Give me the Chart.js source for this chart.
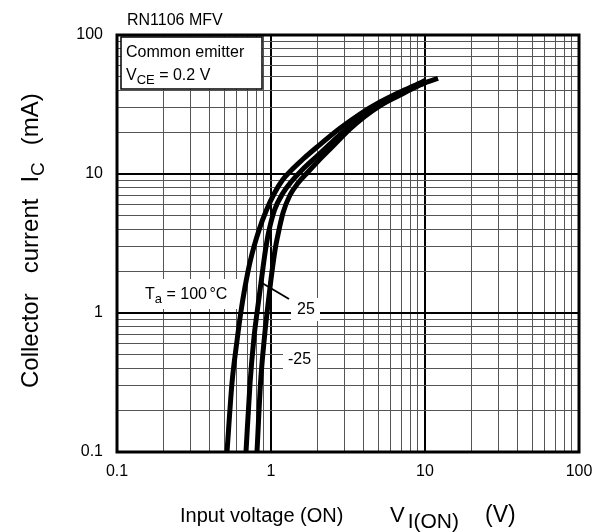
<!DOCTYPE html>
<html>
<head>
<meta charset="utf-8">
<script src="https://cdn.jsdelivr.net/npm/chart.js@4.4.1/dist/chart.umd.min.js"></script>
<style>
  html, body { margin: 0; padding: 0; background: #fff; }
</style>
</head>
<body>
<canvas id="grafico" width="605" height="532"></canvas>
<script>
// tick labels (decades only)
const voltLabels = [0.1, 1, 10, 100];
const corrLabels = [0.1, 1, 10, 100];

// Ta = 100 °C
const v100 = [0.518, 0.558, 0.599, 0.636, 0.678, 0.736, 0.836, 0.935, 1.054, 1.188, 1.359, 1.590, 1.990, 2.765, 3.785, 5.104, 6.880, 9.28, 10.15];
const i100 = [0.1, 0.313, 0.608, 1.0, 1.538, 2.406, 3.955, 5.51, 7.30, 9.05, 10.69, 12.61, 15.64, 21.07, 27.02, 32.96, 38.9, 45.15, 47.45];
// Ta = 25 °C
const v25 = [0.688, 0.731, 0.776, 0.811, 0.861, 0.921, 0.963, 1.054, 1.196, 1.349, 1.590, 1.960, 2.453, 3.069, 3.90, 5.104, 6.880, 9.28, 12.15];
const i25 = [0.1, 0.313, 0.672, 1.0, 1.643, 2.84, 3.763, 5.51, 7.30, 8.76, 10.69, 13.25, 16.71, 20.9, 26.14, 31.62, 37.63, 44.04, 48.65];
// Ta = -25 °C
const vm25 = [0.811, 0.855, 0.907, 0.942, 0.993, 1.062, 1.102, 1.196, 1.329, 1.498, 1.739, 2.144, 2.643, 3.258, 4.018, 5.179, 6.880, 9.28, 10.15];
const im25 = [0.1, 0.313, 0.672, 1.0, 1.643, 2.84, 3.523, 5.24, 7.06, 8.61, 10.33, 13.25, 16.71, 21.07, 25.71, 31.36, 37.0, 43.68, 45.5];

const FONT = "'Liberation Sans', Arial, sans-serif";

function pares(xs, ys) {
  return xs.map((x, i) => ({ x: x, y: ys[i] }));
}

function valoresGrade(min, max) {
  const out = [];
  for (let d = min; d < max * 0.999; d *= 10) {
    for (let k = 1; k <= 9; k++) out.push(Number((d * k).toPrecision(3)));
  }
  out.push(max);
  return out;
}

function ehDecada(v) {
  const l = Math.log10(v);
  return Math.abs(l - Math.round(l)) < 1e-6;
}

// text pieces: {t, sub, x (absolute), gap, size, drop}
function textoRico(ctx, partes, x, y, size) {
  let cx = x;
  partes.forEach(p => {
    if (p.x !== undefined) cx = x + p.x;
    cx += p.gap || 0;
    let s = p.size || (p.sub ? Math.round(size * 0.8) : size);
    let dy = p.sub ? (p.drop !== undefined ? p.drop : size * 0.28) : 0;
    ctx.font = s + "px " + FONT;
    ctx.fillText(p.t, cx, y + dy);
    cx += ctx.measureText(p.t).width;
  });
  return cx;
}

const extras = {
  id: "extras",
  beforeDatasetsDraw(chart) {
    const ctx = chart.ctx;
    const a = chart.chartArea;
    ctx.save();
    ctx.textBaseline = "alphabetic";
    ctx.textAlign = "left";

    // label backgrounds
    ctx.fillStyle = "#fff";
    ctx.fillRect(131, 279, 108, 30);
    ctx.fillRect(291, 298, 29, 23);
    ctx.fillRect(283, 347, 34, 22);

    ctx.fillStyle = "#000";
    textoRico(ctx, [{ t: "T" }, { t: "a", sub: true }, { t: " = 100 " }, { t: "°C", gap: -2 }], 145, 299, 16);
    textoRico(ctx, [{ t: "25" }], 297, 314, 16);
    textoRico(ctx, [{ t: "-25" }], 288, 364, 16);

    // leader line to 25 °C curve
    ctx.strokeStyle = "#000";
    ctx.lineWidth = 2;
    ctx.beginPath();
    ctx.moveTo(262, 283);
    ctx.lineTo(289, 299);
    ctx.stroke();

    // condition box
    ctx.fillStyle = "#fff";
    ctx.fillRect(a.left + 4, a.top + 2, 141, 52);
    ctx.lineWidth = 1.5;
    ctx.strokeRect(a.left + 4, a.top + 2, 141, 52);
    ctx.fillStyle = "#000";
    textoRico(ctx, [{ t: "Common emitter" }], a.left + 9, a.top + 22, 16);
    textoRico(ctx, [{ t: "V" }, { t: "CE", sub: true }, { t: " = 0.2 V" }], a.left + 9, a.top + 45, 16);
    ctx.restore();
  },
  afterDraw(chart) {
    const ctx = chart.ctx;
    const a = chart.chartArea;
    ctx.save();
    ctx.strokeStyle = "#000";
    ctx.lineWidth = 3;
    ctx.strokeRect(a.left, a.top, a.right - a.left, a.bottom - a.top);

    ctx.fillStyle = "#000";
    ctx.textAlign = "left";
    ctx.textBaseline = "alphabetic";
    textoRico(ctx, [{ t: "RN1106 MFV" }], 127, 25, 16);

    // x axis title
    textoRico(ctx, [
      { t: "Input voltage (ON)" },
      { t: "V", x: 210, size: 22 },
      { t: "I(ON)", sub: true, size: 21, drop: 6, gap: 3 },
      { t: "(V)", x: 305, size: 23 }
    ], 180, 522, 20);

    // y axis title (rotated)
    ctx.translate(38, 388);
    ctx.rotate(-Math.PI / 2);
    textoRico(ctx, [
      { t: "Collector" },
      { t: "current", gap: 20 },
      { t: "I", gap: 16 },
      { t: "C", sub: true, size: 19, drop: 6 },
      { t: "(mA)", gap: 17 }
    ], 0, 0, 24);
    ctx.restore();
  }
};

const corGrade = c => ehDecada(c.tick.value) ? "#000" : "#555";
const larguraGrade = c => ehDecada(c.tick.value) ? 2 : 1;

function serie(label, xs, ys) {
  return {
    label: label,
    data: pares(xs, ys),
    borderColor: "#000",
    borderWidth: 5,
    pointRadius: 0,
    fill: false,
    cubicInterpolationMode: "monotone"
  };
}

const ctx = document.getElementById("grafico").getContext("2d");
const grafico = new Chart(ctx, {
  type: "line",
  data: {
    datasets: [
      serie("100", v100, i100),
      serie("25", v25, i25),
      serie("-25", vm25, im25)
    ]
  },
  options: {
    responsive: false,
    animation: false,
    devicePixelRatio: 1,
    layout: { padding: { top: 35, right: 26, left: 0, bottom: 0 } },
    plugins: {
      legend: { display: false },
      tooltip: { enabled: false }
    },
    scales: {
      x: {
        type: "logarithmic",
        min: 0.1,
        max: 100,
        afterBuildTicks: s => { s.ticks = valoresGrade(0.1, 100).map(v => ({ value: v })); },
        afterFit: s => { s.height = 80; },
        ticks: {
          autoSkip: false,
          maxRotation: 0,
          padding: 10,
          color: "#000",
          font: { family: FONT, size: 16 },
          callback: v => voltLabels.includes(v) ? String(v) : ""
        },
        grid: { drawTicks: false, color: corGrade, lineWidth: larguraGrade },
        border: { display: false }
      },
      y: {
        type: "logarithmic",
        min: 0.1,
        max: 100,
        afterBuildTicks: s => { s.ticks = valoresGrade(0.1, 100).map(v => ({ value: v })); },
        afterFit: s => { s.width = 117; },
        ticks: {
          autoSkip: false,
          padding: 14,
          color: "#000",
          font: { family: FONT, size: 16 },
          callback: v => corrLabels.includes(v) ? String(v) : ""
        },
        grid: { drawTicks: false, color: corGrade, lineWidth: larguraGrade },
        border: { display: false }
      }
    }
  },
  plugins: [extras]
});
</script>
</body>
</html>
